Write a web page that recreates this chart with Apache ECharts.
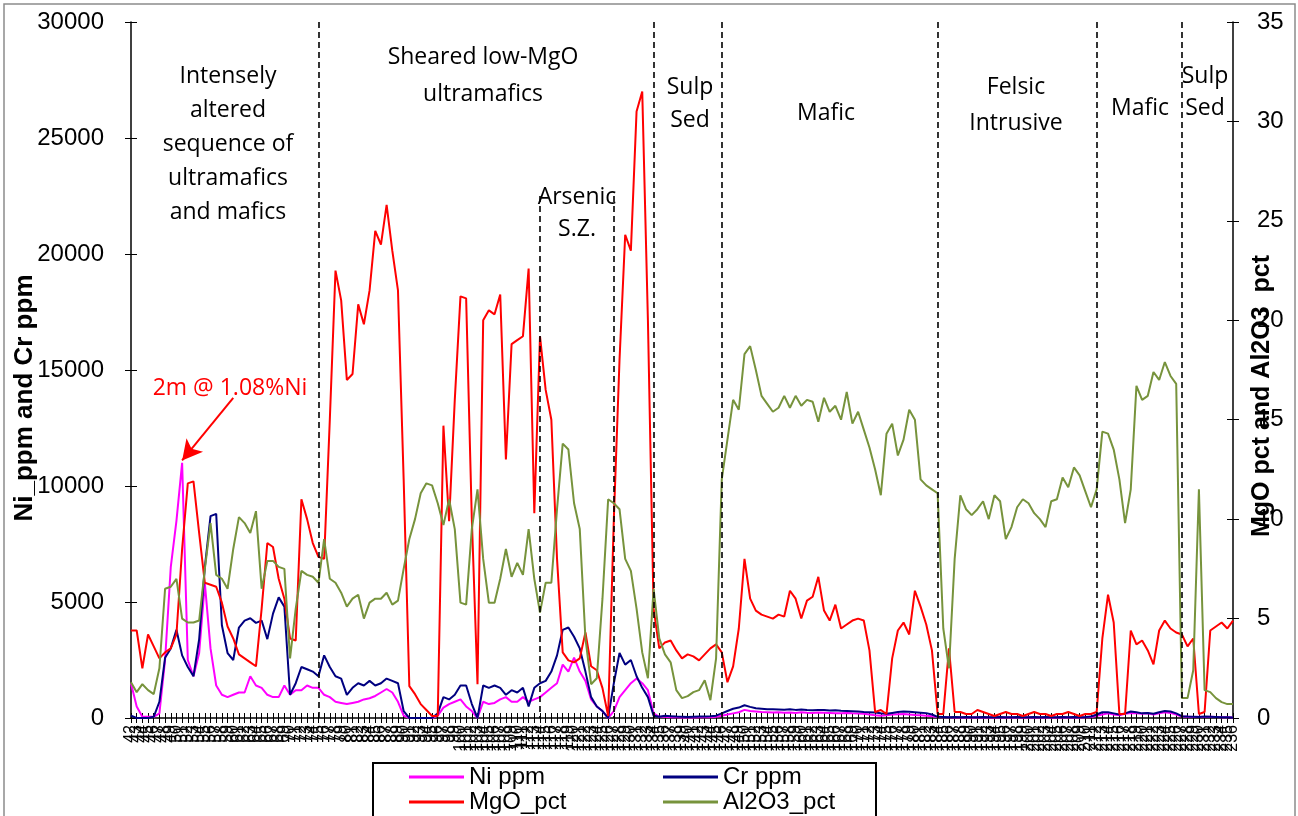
<!DOCTYPE html>
<html>
<head>
<meta charset="utf-8">
<script src="https://cdn.jsdelivr.net/npm/echarts@6/dist/echarts.min.js"></script>
<style>
html,body{margin:0;padding:0;background:#fff;}
#chart{width:1298px;height:816px;}
</style>
</head>
<body>
<div id="chart"></div>
<script>
// sample depth labels
var depths = [
  42,43,44,45,46,47,48,49,50,51,52,53,54,55,56,57,58,59,60,61,
  62,63,64,65,66,67,68,69,70,71,72,73,74,75,76,77,78,79,80,81,
  82,83,84,85,86,87,88,89,90,91,92,93,94,95,96,97,98,99,100,101,
  102,103,104,105,106,107,108,109,110,111,112,113,114,115,116,117,118,119,120,121,
  122,123,124,125,126,127,128,129,130,131,132,133,134,135,136,137,138,139,140,141,
  142,143,144,145,146,147,148,149,150,151,152,153,154,155,156,157,158,159,160,161,
  162,163,164,165,166,167,168,169,170,171,172,173,174,175,176,177,178,179,180,181,
  182,183,184,185,186,187,188,189,190,191,192,193,194,195,196,197,198,199,200,201,
  202,203,204,205,206,207,208,209,210,211,212,213,214,215,216,217,218,219,220,221,
  222,223,224,225,226,227,228,229,230,231,232,233,234,235,236
];

var niPpm = [
  1500,500,50,50,50,200,2500,6500,8500,11000,
  2500,1800,2800,5800,3000,1400,1000,900,1000,1100,
  1100,1800,1400,1300,1000,900,900,1400,1000,1200,
  1200,1400,1300,1300,1000,900,700,650,600,650,
  700,800,850,950,1100,1250,1100,700,100,0,
  0,0,0,0,100,450,600,700,800,500,
  300,0,700,600,650,800,900,700,700,900,
  700,800,900,1100,1300,1500,2300,2000,2600,2000,
  1600,800,500,300,0,300,900,1200,1500,1700,
  1500,1200,200,50,50,30,30,20,30,20,
  30,40,30,50,100,150,200,250,350,300,
  280,260,250,240,250,230,240,220,250,230,
  220,240,230,220,200,210,220,200,190,180,
  150,120,100,120,150,160,170,150,130,120,
  100,80,40,30,30,20,30,20,20,30,
  20,20,30,20,20,30,20,20,30,20,
  20,30,20,20,30,20,30,20,30,40,
  100,150,200,150,120,180,220,200,180,200,
  150,200,250,220,150,60,50,40,50,40,
  50,40,30,30,20
];

var crPpm = [
  100,0,0,0,50,700,2600,3000,3800,2700,
  2200,1800,3400,6500,8700,8800,4000,2800,2500,3900,
  4200,4300,4100,4200,3400,4500,5200,4800,1000,1500,
  2200,2100,2000,1800,2700,2200,1800,1700,1000,1300,
  1500,1400,1600,1400,1500,1700,1600,1500,300,0,
  0,0,0,0,200,900,800,1000,1400,1400,
  600,0,1400,1300,1400,1300,1000,1200,1100,1300,
  500,1300,1500,1600,2000,2700,3800,3900,3500,3000,
  2000,900,500,300,0,1500,2800,2300,2500,1800,
  1300,900,100,50,100,80,60,50,40,50,
  60,70,80,100,200,300,400,450,550,480,
  420,400,380,380,370,360,380,350,370,340,
  330,350,340,320,330,310,300,290,280,260,
  250,240,200,180,220,260,280,270,250,230,
  210,150,50,40,30,40,30,40,30,30,
  40,30,30,40,30,30,40,30,30,40,
  30,40,30,30,40,30,40,30,40,60,
  150,250,250,200,150,200,280,250,200,220,
  180,250,300,280,200,80,60,50,40,60,
  50,40,30,30,20
];

var mgoPct = [
  4.4,4.4,2.5,4.2,3.6,3.0,3.3,3.5,4.2,8.5,
  11.8,11.9,9.3,6.8,6.7,6.6,5.8,4.6,4.0,3.2,
  3.0,2.8,2.6,5.5,8.8,8.6,7.0,6.0,4.0,3.9,
  11.0,10.0,8.8,8.1,8.0,15.0,22.5,21.0,17.0,17.3,
  20.8,19.8,21.5,24.5,23.8,25.8,23.5,21.5,12.0,1.6,
  1.2,0.7,0.4,0.1,0.1,14.7,9.9,16.0,21.2,21.1,
  10.0,1.7,20.0,20.5,20.3,21.3,13.0,18.8,19.0,19.2,
  22.6,10.3,19.2,16.5,15.0,8.0,3.3,2.9,2.8,3.0,
  4.3,2.6,2.4,1.5,0.1,10.0,18.0,24.3,23.5,30.5,
  31.5,20.0,5.5,3.5,3.8,3.9,3.4,3.0,3.2,3.1,
  2.9,3.2,3.5,3.7,3.3,1.8,2.6,4.5,8.0,6.0,
  5.4,5.2,5.1,5.0,5.2,5.1,6.4,6.0,5.0,5.9,
  6.1,7.1,5.4,4.9,5.7,4.5,4.7,4.9,5.0,4.9,
  3.4,0.3,0.4,0.2,3.0,4.4,4.8,4.2,6.4,5.6,
  4.7,3.4,0.2,0.2,3.5,0.3,0.3,0.2,0.2,0.4,
  0.3,0.2,0.1,0.2,0.3,0.2,0.2,0.1,0.2,0.3,
  0.2,0.2,0.1,0.2,0.2,0.3,0.2,0.1,0.2,0.2,
  0.3,4.0,6.2,4.8,0.2,0.2,4.4,3.7,3.9,3.4,
  2.7,4.4,4.9,4.5,4.3,4.2,3.6,4.0,0.2,0.3,
  4.4,4.6,4.8,4.5,4.9
];

var al2o3Pct = [
  1.8,1.3,1.7,1.4,1.2,2.5,6.5,6.6,7.0,5.0,
  4.8,4.8,4.9,7.5,9.8,7.2,7.0,6.5,8.5,10.1,
  9.8,9.3,10.4,6.5,7.9,7.9,7.6,7.5,3.0,5.5,
  7.4,7.2,7.1,6.8,9.0,7.0,6.8,6.3,5.6,6.0,
  6.2,5.0,5.8,6.0,6.0,6.3,5.7,5.9,7.5,9.0,
  10.0,11.3,11.8,11.7,10.8,9.7,11.0,9.5,5.8,5.7,
  9.5,11.5,8.0,5.8,5.8,7.0,8.5,7.1,7.8,7.2,
  9.5,7.0,5.3,6.8,6.8,10.5,13.8,13.5,10.8,9.5,
  4.0,1.7,2.0,6.0,11.0,10.8,10.5,8.0,7.4,5.5,
  3.3,2.0,6.5,4.0,3.2,2.8,1.4,1.0,1.1,1.3,
  1.4,1.9,0.9,3.0,12.0,14.0,16.0,15.5,18.3,18.7,
  17.5,16.2,15.8,15.4,15.6,16.2,15.6,16.2,15.7,16.0,
  15.9,14.9,16.1,15.4,15.7,15.0,16.4,14.8,15.4,14.5,
  13.6,12.5,11.2,14.3,14.8,13.2,14.0,15.5,15.0,12.0,
  11.7,11.5,11.3,4.5,2.5,8.0,11.2,10.5,10.2,10.5,
  10.9,10.0,11.2,10.9,9.0,9.6,10.6,11.0,10.8,10.3,
  10.0,9.6,10.9,11.0,12.1,11.6,12.6,12.2,11.4,10.6,
  11.5,14.4,14.3,13.5,12.0,9.8,11.5,16.7,16.0,16.2,
  17.4,17.0,17.9,17.2,16.8,1.0,1.0,2.4,11.5,1.4,
  1.3,1.0,0.8,0.7,0.7
];

// zone boundaries (category index): full height ones and the two short arsenic ones
var zoneBreaks = [33, 92, 104, 142, 170, 185];
var arsenicBreaks = [72, 85];

var chart = echarts.init(document.getElementById('chart'));

var axisFont = 'Liberation Sans, Arial, sans-serif';
var noteFont = '"Open Sans", sans-serif';

var markData = [];
zoneBreaks.forEach(function (i) {
  markData.push([{ coord: [i, 30000] }, { coord: [i, 0] }]);
});
arsenicBreaks.forEach(function (i) {
  markData.push([{ coord: [i, 22500] }, { coord: [i, 0] }]);
});
// red arrow pointing at the Ni peak
markData.push([
  { coord: [18, 13800], symbol: 'none', lineStyle: { color: '#ff0000', type: 'solid', width: 2 } },
  { coord: [9, 11100], symbol: 'arrow', symbolSize: [16, 20] }
]);

function note(text, x, y, lh) {
  return {
    type: 'text', x: x, y: y, silent: true, z: 10,
    style: {
      text: text, font: '23px ' + noteFont, fill: '#000',
      textAlign: 'center', textVerticalAlign: 'middle', lineHeight: lh || 34
    }
  };
}

function legendBox(left, names) {
  return {
    orient: 'vertical', left: left, top: 760, height: 80, itemGap: 1,
    itemWidth: 55, itemHeight: 3, icon: 'rect', data: names,
    textStyle: { fontFamily: axisFont, fontSize: 24, color: '#000', lineHeight: 24 }
  };
}

var option = {
  animation: false,
  grid: [
    { left: 131, right: 65, top: 22, bottom: 98 },
    { left: 131, right: 65, top: 22, bottom: 98 }
  ],
  legend: [
    legendBox(404, ['Ni ppm', 'MgO_pct']),
    legendBox(658, ['Cr ppm', 'Al2O3_pct'])
  ],
  xAxis: [
    {
      type: 'category', data: depths, boundaryGap: false, gridIndex: 0,
      axisLine: { lineStyle: { color: '#000', width: 1.5 } },
      axisTick: { interval: 0, length: 5, lineStyle: { color: '#000' } },
      axisLabel: {
        interval: 0, rotate: 90, fontSize: 16, color: '#000',
        fontFamily: axisFont, margin: 7
      },
      splitLine: { show: false }
    },
    {
      type: 'category', data: depths, boundaryGap: false, gridIndex: 1,
      axisLine: { show: false },
      axisTick: { interval: 0, inside: true, length: 5, lineStyle: { color: '#000' } },
      axisLabel: { show: false },
      splitLine: { show: false }
    }
  ],
  yAxis: [
    {
      type: 'value', min: 0, max: 30000, interval: 5000, position: 'left', gridIndex: 0,
      axisLine: { show: true, lineStyle: { color: '#000', width: 1.5 } },
      axisTick: { show: true, length: 6, lineStyle: { color: '#000' } },
      axisLabel: {
        fontSize: 24, color: '#000', fontFamily: axisFont, margin: 27,
        formatter: function (v) { return String(v); }
      },
      splitLine: { show: false }
    },
    {
      type: 'value', min: 0, max: 35, interval: 5, position: 'right', gridIndex: 0,
      axisLine: { show: true, lineStyle: { color: '#000', width: 1.5 } },
      axisTick: { show: true, length: 6, lineStyle: { color: '#000' } },
      axisLabel: { fontSize: 24, color: '#000', fontFamily: axisFont, margin: 24 },
      splitLine: { show: false }
    },
    {
      type: 'value', min: 0, max: 30000, interval: 5000, position: 'left', gridIndex: 1,
      axisLine: { show: false },
      axisTick: { show: true, inside: true, length: 6, lineStyle: { color: '#000' } },
      axisLabel: { show: false }, splitLine: { show: false }
    },
    {
      type: 'value', min: 0, max: 35, interval: 5, position: 'right', gridIndex: 1,
      axisLine: { show: false },
      axisTick: { show: true, inside: true, length: 6, lineStyle: { color: '#000' } },
      axisLabel: { show: false }, splitLine: { show: false }
    }
  ],
  series: [
    {
      name: 'Ni ppm', type: 'line', data: niPpm, yAxisIndex: 0,
      showSymbol: false, color: '#ff00ff', lineStyle: { width: 2 }, z: 3,
      markLine: {
        silent: true, symbol: ['none', 'none'], animation: false,
        label: { show: false },
        lineStyle: { color: '#000', type: [6, 4], width: 1.6 },
        data: markData
      }
    },
    {
      name: 'Cr ppm', type: 'line', data: crPpm, yAxisIndex: 0,
      showSymbol: false, color: '#000080', lineStyle: { width: 2 }, z: 3
    },
    {
      name: 'MgO_pct', type: 'line', data: mgoPct, yAxisIndex: 1,
      showSymbol: false, color: '#ff0000', lineStyle: { width: 2 }, z: 4
    },
    {
      name: 'Al2O3_pct', type: 'line', data: al2o3Pct, yAxisIndex: 1,
      showSymbol: false, color: '#77933c', lineStyle: { width: 2 }, z: 4
    }
  ],
  graphic: [
    {
      type: 'rect', silent: true, z: -1,
      shape: { x: 4, y: 4, width: 1291, height: 840 },
      style: { fill: 'none', stroke: '#8c8c8c', lineWidth: 1.5 }
    },
    {
      type: 'rect', silent: true,
      shape: { x: 373, y: 763, width: 503, height: 70 },
      style: { fill: 'none', stroke: '#000', lineWidth: 2 }
    },
    {
      type: 'text', x: 25, y: 398, rotation: Math.PI / 2, silent: true,
      style: {
        text: 'Ni_ppm and Cr ppm', font: 'bold 26px ' + axisFont, fill: '#000',
        textAlign: 'center', textVerticalAlign: 'middle'
      }
    },
    {
      type: 'text', x: 1262, y: 396, rotation: Math.PI / 2, silent: true,
      style: {
        text: 'MgO pct and Al2O3  pct', font: 'bold 25px ' + axisFont, fill: '#000',
        textAlign: 'center', textVerticalAlign: 'middle'
      }
    },
    note('Intensely\naltered\nsequence of\nultramafics\nand mafics', 228, 144, 34),
    note('Sheared low-MgO\nultramafics', 483, 76, 37),
    note('Arsenic\nS.Z.', 577, 213, 32),
    note('Sulp\nSed', 690, 104, 33),
    note('Mafic', 826, 113),
    note('Felsic\nIntrusive', 1016, 105, 36),
    note('Mafic', 1140, 108),
    note('Sulp\nSed', 1205, 92, 32),
    {
      type: 'text', x: 230, y: 388, silent: true,
      style: {
        text: '2m @ 1.08%Ni', font: '23px ' + noteFont, fill: '#ff0000',
        textAlign: 'center', textVerticalAlign: 'middle'
      }
    }
  ]
};

chart.setOption(option);
</script>
</body>
</html>
